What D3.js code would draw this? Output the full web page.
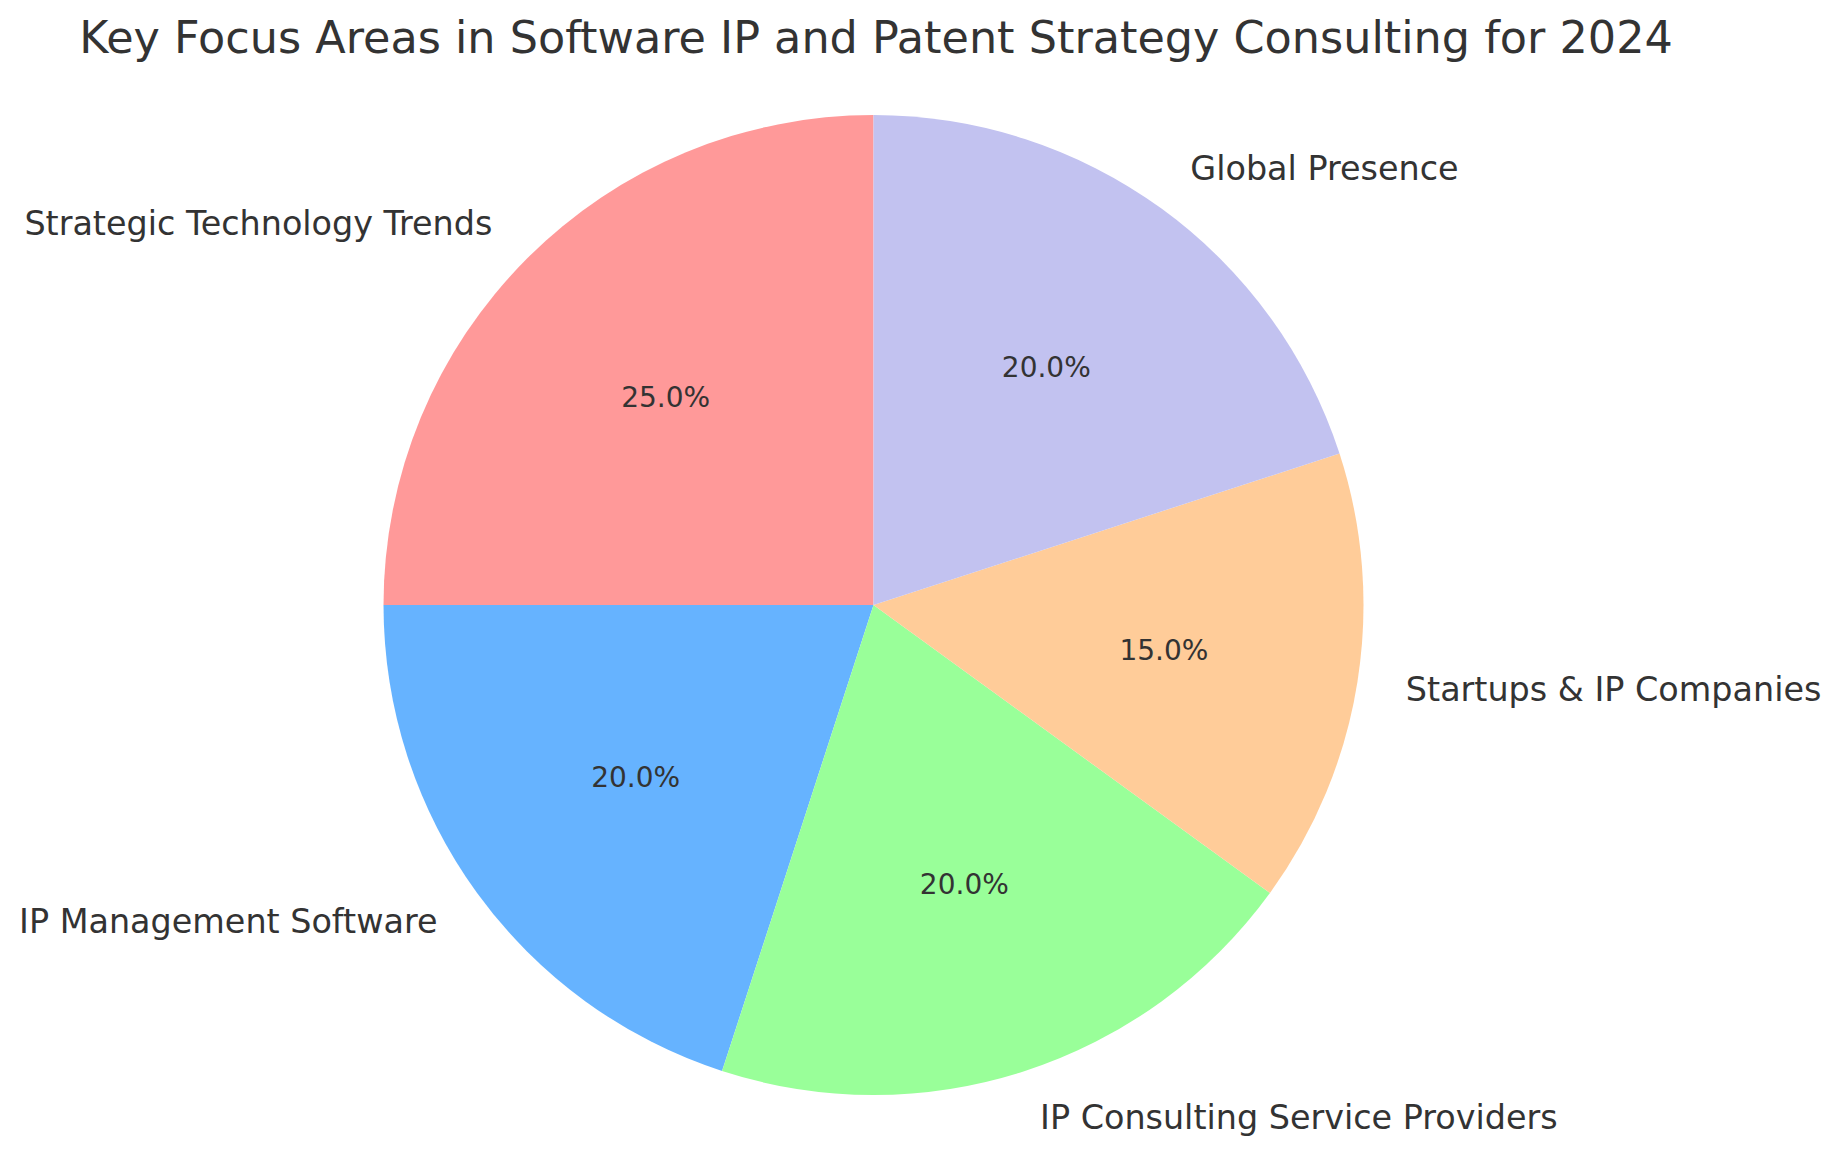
<!DOCTYPE html>
<html>
<head>
<meta charset="utf-8">
<script src="https://cdn.jsdelivr.net/npm/d3@7"></script>
<style>
  html, body { margin: 0; padding: 0; background: #ffffff; }
  svg { display: block; }
  text { font-family: "DejaVu Sans", sans-serif; fill: #333333; }
</style>
</head>
<body>
<svg id="chart" width="1841" height="1168"></svg>
<script>
const title = "Key Focus Areas in Software IP and Patent Strategy Consulting for 2024";
const categories = ["Strategic Technology Trends", "IP Management Software", "IP Consulting Service Providers", "Startups & IP Companies", "Global Presence"];
const values = [25, 20, 20, 15, 20];
const colors = ["#ff9999", "#66b3ff", "#99ff99", "#ffcc99", "#c2c2f0"];

const W = 1841, H = 1168;
const cx = 873.5, cy = 605, R = 490;
const svg = d3.select("#chart");

svg.append("text")
  .attr("x", 876)
  .attr("y", 53)
  .attr("text-anchor", "middle")
  .style("font-size", "44.5px")
  .text(title);

const data = categories.map((c, i) => ({ name: c, value: values[i], color: colors[i] }));
const total = d3.sum(values);

const pie = d3.pie().value(d => d.value).sort(null).startAngle(0).endAngle(-2 * Math.PI);
const arcs = pie(data);
const arc = d3.arc().innerRadius(0).outerRadius(R);

const g = svg.append("g").attr("transform", `translate(${cx},${cy})`);

g.selectAll("path.slice")
  .data(arcs)
  .join("path")
  .attr("class", "slice")
  .attr("d", arc)
  .attr("fill", d => d.data.color);

function pos(a, r) { return [Math.sin(a) * r, -Math.cos(a) * r]; }

g.selectAll("text.pct")
  .data(arcs)
  .join("text")
  .attr("class", "pct")
  .each(function(d) {
    const m = (d.startAngle + d.endAngle) / 2;
    const [x, y] = pos(m, 0.6 * R);
    d3.select(this).attr("x", x).attr("y", y);
  })
  .attr("text-anchor", "middle")
  .attr("dominant-baseline", "central")
  .style("font-size", "28px")
  .text(d => (d.data.value / total * 100).toFixed(1) + "%");

g.selectAll("text.lbl")
  .data(arcs)
  .join("text")
  .attr("class", "lbl")
  .each(function(d) {
    const m = (d.startAngle + d.endAngle) / 2;
    const [x, y] = pos(m, 1.1 * R);
    d3.select(this).attr("x", x).attr("y", y).attr("text-anchor", x > 0 ? "start" : "end");
  })
  .attr("dominant-baseline", "central")
  .style("font-size", "33.4px")
  .text(d => d.data.name);
</script>
</body>
</html>
